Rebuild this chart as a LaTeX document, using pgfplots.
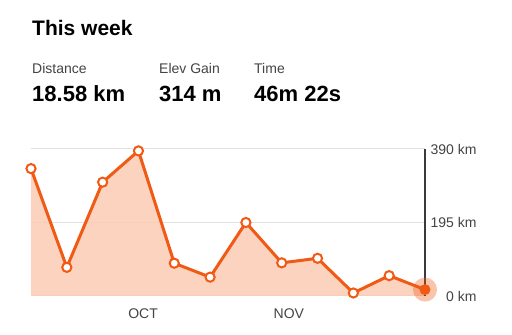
\documentclass[border=0pt]{standalone}
\usepackage{fontspec}
\setmainfont{Liberation Sans}
\usepackage{pgfplots}
\pgfplotsset{compat=1.18}
\definecolor{strava}{HTML}{F05A14}
\definecolor{fillc}{HTML}{FBC9B0}
\definecolor{gridc}{HTML}{E2E2E2}
\definecolor{labc}{HTML}{444444}
\definecolor{vline}{HTML}{3A3A3A}
\begin{document}
\begin{tikzpicture}[x=1pt,y=1pt]
\useasboundingbox[fill=white] (0,0) rectangle (512,335);
\node[anchor=base west, inner sep=0, font=\fontsize{21}{24}\selectfont\bfseries] at (32,299.3) {This week};
\node[anchor=base west, inner sep=0, text=labc, font=\fontsize{14}{16}\selectfont] at (32,261.7) {Distance};
\node[anchor=base west, inner sep=0, text=labc, font=\fontsize{14}{16}\selectfont] at (159,261.7) {Elev Gain};
\node[anchor=base west, inner sep=0, text=labc, font=\fontsize{14}{16}\selectfont] at (254,261.7) {Time};
\node[anchor=base west, inner sep=0, font=\fontsize{22}{25}\selectfont\bfseries] at (32,233.3) {18.58 km};
\node[anchor=base west, inner sep=0, font=\fontsize{22}{25}\selectfont\bfseries] at (159,233.3) {314 m};
\node[anchor=base west, inner sep=0, font=\fontsize{22}{25}\selectfont\bfseries] at (254,233.3) {46m 22s};
\begin{axis}[
  at={(31pt,39pt)}, anchor=south west,
  width=394pt, height=147pt, scale only axis,
  xmin=0, xmax=11, ymin=0, ymax=390,
  clip=false,
  axis line style={draw=none},
  major tick length=0pt,
  ytick={0,195,390},
  yticklabels={0 km,195 km,390 km},
  yticklabel pos=right,
  yticklabel style={anchor=east, xshift=55pt, text=labc, font=\fontsize{14}{16}\selectfont},
  xtick={3.13,7.2},
  xticklabels={OCT,NOV},
  xticklabel style={text=labc, font=\fontsize{14}{16}\selectfont, yshift=-9pt},
  ymajorgrids,
  grid style={gridc, line width=1pt},
  /pgf/number format/assume math mode=true,
]
\addplot[draw=none, fill=fillc, fill opacity=0.8] coordinates {
 (0,338) (1,76) (2,302) (3,385) (4,87) (5,50) (6,195) (7,88) (8,100) (9,8) (10,54) (11,17) (11,0) (0,0)} \closedcycle;
\addplot[vline, line width=2.5pt] coordinates {(11,-1) (11,390)};
\addplot[strava, line width=3pt, mark=*, mark size=4.6pt, mark options={fill=white, draw=strava, line width=2pt}] coordinates {
 (0,338) (1,76) (2,302) (3,385) (4,87) (5,50) (6,195) (7,88) (8,100) (9,8) (10,54)};
\addplot[strava, line width=3pt] coordinates {(10,54) (11,17)};
\addplot[strava, only marks, mark=*, mark size=12pt, mark options={draw opacity=0, fill=strava, fill opacity=0.35}] coordinates {(11,17)};
\addplot[strava, only marks, mark=*, mark size=5.5pt, mark options={draw opacity=0, fill=strava}] coordinates {(11,17)};
\end{axis}
\end{tikzpicture}
\end{document}
